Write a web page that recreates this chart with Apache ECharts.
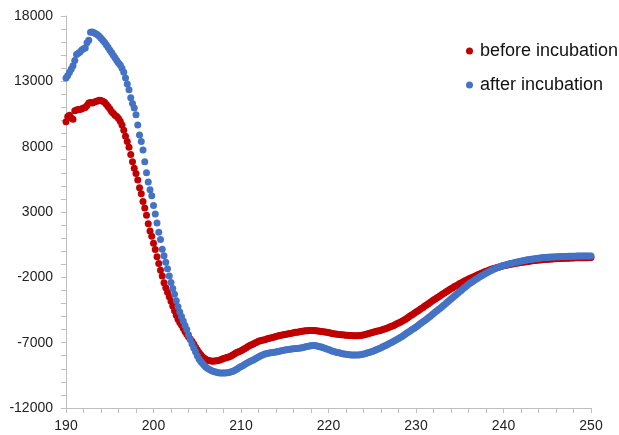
<!DOCTYPE html>
<html>
<head>
<meta charset="utf-8">
<script src="https://cdn.jsdelivr.net/npm/echarts@6/dist/echarts.min.js"></script>
<style>
html,body{margin:0;padding:0;background:#fff;}
#c{width:619px;height:435px;}
</style>
</head>
<body>
<div id="c"></div>
<script>
// wavelength (nm), one line per nm (5 samples)
const wavelength = [
190.0,190.2,190.4,190.6,190.8, 191.0,191.2,191.4,191.6,191.8,
192.0,192.2,192.4,192.6,192.8, 193.0,193.2,193.4,193.6,193.8,
194.0,194.2,194.4,194.6,194.8, 195.0,195.2,195.4,195.6,195.8,
196.0,196.2,196.4,196.6,196.8, 197.0,197.2,197.4,197.6,197.8,
198.0,198.2,198.4,198.6,198.8, 199.0,199.2,199.4,199.6,199.8,
200.0,200.2,200.4,200.6,200.8, 201.0,201.2,201.4,201.6,201.8,
202.0,202.2,202.4,202.6,202.8, 203.0,203.2,203.4,203.6,203.8,
204.0,204.2,204.4,204.6,204.8, 205.0,205.2,205.4,205.6,205.8,
206.0,206.2,206.4,206.6,206.8, 207.0,207.2,207.4,207.6,207.8,
208.0,208.2,208.4,208.6,208.8, 209.0,209.2,209.4,209.6,209.8,
210.0,210.2,210.4,210.6,210.8, 211.0,211.2,211.4,211.6,211.8,
212.0,212.2,212.4,212.6,212.8, 213.0,213.2,213.4,213.6,213.8,
214.0,214.2,214.4,214.6,214.8, 215.0,215.2,215.4,215.6,215.8,
216.0,216.2,216.4,216.6,216.8, 217.0,217.2,217.4,217.6,217.8,
218.0,218.2,218.4,218.6,218.8, 219.0,219.2,219.4,219.6,219.8,
220.0,220.2,220.4,220.6,220.8, 221.0,221.2,221.4,221.6,221.8,
222.0,222.2,222.4,222.6,222.8, 223.0,223.2,223.4,223.6,223.8,
224.0,224.2,224.4,224.6,224.8, 225.0,225.2,225.4,225.6,225.8,
226.0,226.2,226.4,226.6,226.8, 227.0,227.2,227.4,227.6,227.8,
228.0,228.2,228.4,228.6,228.8, 229.0,229.2,229.4,229.6,229.8,
230.0,230.2,230.4,230.6,230.8, 231.0,231.2,231.4,231.6,231.8,
232.0,232.2,232.4,232.6,232.8, 233.0,233.2,233.4,233.6,233.8,
234.0,234.2,234.4,234.6,234.8, 235.0,235.2,235.4,235.6,235.8,
236.0,236.2,236.4,236.6,236.8, 237.0,237.2,237.4,237.6,237.8,
238.0,238.2,238.4,238.6,238.8, 239.0,239.2,239.4,239.6,239.8,
240.0,240.2,240.4,240.6,240.8, 241.0,241.2,241.4,241.6,241.8,
242.0,242.2,242.4,242.6,242.8, 243.0,243.2,243.4,243.6,243.8,
244.0,244.2,244.4,244.6,244.8, 245.0,245.2,245.4,245.6,245.8,
246.0,246.2,246.4,246.6,246.8, 247.0,247.2,247.4,247.6,247.8,
248.0,248.2,248.4,248.6,248.8, 249.0,249.2,249.4,249.6,249.8,
250.0
];

const beforeIncubation = [
9900,10300,10400,10200,10100, 10750,10800,10850,10850,10900,
10950,11000,11150,11350,11380, 11350,11400,11450,11500,11560,
11540,11480,11400,11250,11080, 10900,10700,10550,10400,10300,
10150,9950,9650,9250,8800, 8400,7950,7400,6850,6350,
5950,5450,4850,4400,3800, 3300,2750,2100,1550,1150,
600,130,-420,-950,-1450, -1900,-2420,-2800,-3150,-3480,
-3830,-4200,-4550,-4900,-5200, -5450,-5650,-5900,-6150,-6350,
-6550,-6720,-6900,-7100,-7350, -7550,-7750,-7920,-8080,-8200,
-8290,-8350,-8390,-8410,-8420, -8410,-8390,-8360,-8320,-8270,
-8220,-8180,-8140,-8100,-8040, -7960,-7880,-7800,-7730,-7680,
-7620,-7540,-7460,-7380,-7300, -7220,-7160,-7100,-7030,-6960,
-6900,-6860,-6820,-6790,-6750, -6700,-6670,-6650,-6610,-6560,
-6520,-6490,-6460,-6430,-6400, -6380,-6350,-6320,-6300,-6270,
-6240,-6210,-6200,-6180,-6150, -6130,-6110,-6090,-6080,-6070,
-6060,-6060,-6070,-6080,-6100, -6120,-6140,-6160,-6180,-6200,
-6230,-6260,-6290,-6310,-6340, -6360,-6380,-6390,-6400,-6420,
-6430,-6440,-6450,-6460,-6470, -6470,-6470,-6470,-6460,-6440,
-6410,-6380,-6340,-6300,-6260, -6220,-6180,-6140,-6110,-6080,
-6050,-6000,-5960,-5910,-5860, -5810,-5750,-5700,-5630,-5560,
-5500,-5440,-5370,-5290,-5200, -5110,-5020,-4930,-4840,-4750,
-4660,-4570,-4480,-4390,-4300, -4200,-4110,-4020,-3930,-3830,
-3730,-3650,-3560,-3480,-3390, -3300,-3210,-3130,-3040,-2950,
-2870,-2790,-2710,-2640,-2560, -2480,-2410,-2340,-2270,-2200,
-2130,-2070,-2010,-1950,-1890, -1830,-1770,-1710,-1650,-1600,
-1540,-1490,-1440,-1390,-1350, -1300,-1260,-1220,-1190,-1150,
-1120,-1090,-1060,-1030,-1000, -980,-960,-930,-910,-890,
-870,-850,-830,-800,-780, -760,-740,-730,-710,-690,
-680,-670,-650,-640,-630, -620,-610,-600,-590,-580,
-570,-560,-560,-550,-540, -540,-530,-530,-520,-520,
-515,-510,-510,-505,-500, -500,-500,-495,-495,-490,
-490
];

const afterIncubation = [
13250,13450,13700,13950,14200, 14600,15050,15150,15250,15400,
15500,15550,15950,16150,16750, 16780,16720,16650,16560,16450,
16300,16150,16000,15800,15600, 15400,15200,15000,14800,14600,
14400,14250,14000,13700,13250, 12800,12350,11750,11300,10950,
10450,9650,8900,8400,7750, 6850,6000,5300,4700,4250,
3500,2850,2150,1450,900, 150,-350,-850,-1350,-1900,
-2400,-2850,-3300,-3800,-4250, -4650,-5000,-5350,-5680,-6000,
-6400,-6750,-7100,-7400,-7700, -8000,-8250,-8450,-8600,-8750,
-8880,-8980,-9060,-9130,-9180, -9230,-9270,-9300,-9320,-9330,
-9330,-9320,-9300,-9280,-9250, -9210,-9150,-9080,-9000,-8910,
-8830,-8760,-8680,-8600,-8520, -8450,-8380,-8320,-8250,-8170,
-8090,-8020,-7960,-7900,-7850, -7820,-7800,-7780,-7760,-7740,
-7710,-7680,-7650,-7620,-7590, -7570,-7550,-7530,-7510,-7490,
-7470,-7450,-7440,-7420,-7400, -7380,-7350,-7320,-7290,-7260,
-7230,-7220,-7220,-7240,-7270, -7310,-7340,-7380,-7430,-7480,
-7530,-7580,-7630,-7680,-7720, -7750,-7780,-7810,-7840,-7870,
-7890,-7910,-7930,-7940,-7950, -7950,-7950,-7940,-7920,-7900,
-7870,-7840,-7800,-7760,-7720, -7670,-7620,-7560,-7500,-7440,
-7380,-7320,-7260,-7190,-7120, -7050,-6980,-6910,-6840,-6760,
-6680,-6600,-6520,-6430,-6340, -6250,-6160,-6070,-5980,-5890,
-5800,-5700,-5600,-5500,-5400, -5300,-5200,-5100,-4990,-4880,
-4770,-4660,-4560,-4450,-4350, -4240,-4120,-4000,-3880,-3770,
-3650,-3540,-3430,-3310,-3200, -3090,-2980,-2860,-2750,-2640,
-2530,-2440,-2350,-2260,-2170, -2080,-2000,-1920,-1840,-1760,
-1680,-1610,-1540,-1470,-1400, -1340,-1290,-1240,-1190,-1140,
-1090,-1050,-1020,-980,-950, -920,-890,-850,-820,-790,
-760,-730,-710,-680,-660, -630,-610,-590,-570,-550,
-530,-520,-500,-490,-480, -470,-460,-450,-440,-440,
-430,-420,-420,-410,-410, -400,-400,-390,-390,-380,
-380,-380,-370,-370,-370, -370,-365,-365,-360,-360,
-360
];

const seriesNames = ['before incubation', 'after incubation'];

const chart = echarts.init(document.getElementById('c'), null, {renderer: 'canvas'});
const axisColor = '#bfbfbf';
const labelFont = {color: '#222', fontSize: 14, fontFamily: 'Liberation Sans, Arial, sans-serif'};
const plainNumber = v => String(v);

chart.setOption({
  animation: false,
  backgroundColor: '#fff',
  grid: {left: 66, right: 28, top: 16, bottom: 27, containLabel: false, outerBoundsMode: 'none'},
  legend: {
    orient: 'vertical',
    left: 461,
    top: 37,
    itemGap: 16,
    itemWidth: 7,
    itemHeight: 7,
    icon: 'circle',
    textStyle: {color: '#111', fontSize: 18, fontFamily: 'Liberation Sans, Arial, sans-serif', lineHeight: 18, padding: [0,0,0,2]},
    data: seriesNames
  },
  xAxis: {
    type: 'value',
    min: 190, max: 250, interval: 10,
    axisLine: {show: true, onZero: false, lineStyle: {color: axisColor, width: 1}},
    axisTick: {show: true, inside: false, length: 5, lineStyle: {color: axisColor}},
    minorTick: {show: true, splitNumber: 5, length: 5, lineStyle: {color: axisColor}},
    splitLine: {show: false},
    axisLabel: Object.assign({margin: 11, formatter: plainNumber}, labelFont)
  },
  yAxis: {
    type: 'value',
    min: -12000, max: 18000, interval: 5000,
    axisLine: {show: true, onZero: false, lineStyle: {color: axisColor, width: 1}},
    axisTick: {show: true, inside: false, length: 5, lineStyle: {color: axisColor}},
    minorTick: {show: true, splitNumber: 5, length: 5, lineStyle: {color: axisColor}},
    splitLine: {show: false},
    axisLabel: Object.assign({margin: 13, formatter: plainNumber}, labelFont)
  },
  series: [
    {
      name: seriesNames[0], type: 'scatter', symbol: 'circle', symbolSize: 7,
      itemStyle: {color: '#C00000', opacity: 1},
      data: wavelength.map((w, i) => [w, beforeIncubation[i]])
    },
    {
      name: seriesNames[1], type: 'scatter', symbol: 'circle', symbolSize: 7,
      itemStyle: {color: '#4472C4', opacity: 1},
      data: wavelength.map((w, i) => [w, afterIncubation[i]])
    }
  ]
});
</script>
</body>
</html>
